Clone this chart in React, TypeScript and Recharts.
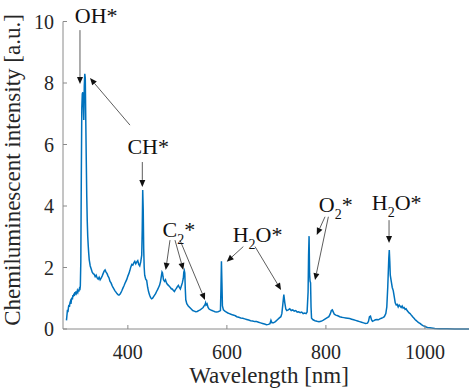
import { LineChart, Line, XAxis, YAxis, ReferenceLine, ReferenceDot } from 'recharts';

// emission spectrum (nm / a.u.)
const wavelength = [
  276, 277, 278, 279, 280, 281, 282, 283, 284, 285, 286, 287, 288, 289, 290, 291, 292, 293, 294, 295, 296, 297, 298, 299,
  300, 301, 302, 303, 304, 305, 306, 307, 308, 309, 310, 311, 312, 313, 314, 315, 316, 317, 318, 319, 320, 321, 322, 324,
  326, 328, 330, 332, 334, 336, 338, 340, 342, 344, 346, 348, 350, 352, 354, 356, 358, 360, 362, 364, 366, 368, 370, 372,
  374, 376, 378, 380, 382, 384, 386, 388, 390, 392, 394, 396, 398, 400, 402, 404, 406, 408, 410, 412, 414, 416, 418, 420,
  422, 424, 426, 428, 429, 430, 431, 432, 433, 434, 436, 438, 440, 442, 444, 446, 448, 450, 452, 454, 456, 458, 460, 462,
  464, 466, 468, 469, 470, 471, 472, 474, 476, 478, 480, 482, 484, 486, 488, 490, 492, 494, 496, 498, 500, 502, 504, 506,
  508, 510, 512, 513, 514, 515, 516, 517, 519, 522, 525, 528, 531, 534, 537, 540, 543, 546, 549, 552, 554, 556, 557, 558,
  560, 562, 564, 567, 570, 573, 576, 579, 582, 585, 587, 588, 589, 590, 591, 593, 596, 599, 602, 605, 608, 611, 614, 617,
  620, 624, 628, 632, 636, 640, 644, 648, 652, 656, 660, 664, 668, 672, 676, 680, 684, 687, 689, 691, 694, 698, 702, 706,
  709, 711, 713, 715, 717, 719, 721, 724, 727, 730, 733, 736, 739, 742, 745, 748, 751, 754, 757, 760, 762, 764, 765, 766,
  767, 768, 769, 770, 771, 774, 778, 782, 786, 790, 794, 798, 802, 806, 809, 811, 813, 815, 817, 820, 824, 828, 832, 836,
  840, 844, 848, 852, 856, 860, 864, 868, 872, 876, 880, 884, 886, 888, 890, 892, 894, 897, 900, 903, 906, 909, 912, 915,
  918, 921, 923, 925, 927, 928, 929, 930, 932, 934, 936, 938, 940, 942, 944, 946, 948, 950, 952, 954, 956, 958, 960, 962,
  964, 966, 968, 970, 972, 974, 976, 978, 980, 982, 984, 986, 988, 990, 993, 996, 1000, 1005, 1010, 1020, 1030, 1045, 1060,
  1075, 1089,
];
const intensity = [
  0.28, 0.45, 0.62, 0.55, 0.7, 0.78, 0.72, 0.85, 0.9, 0.82, 0.95, 1.02, 0.96, 1.1, 1.05, 1.15, 1.08, 1.2, 1.12, 1.22, 1.15, 1.18, 1.25, 1.2,
  1.28, 1.22, 1.3, 1.26, 1.4, 2.2, 5.0, 7.2, 7.65, 7.7, 7.3, 6.8, 7.9, 8.3, 8.15, 6.8, 5.5, 4.3, 3.5, 3.0, 2.7, 2.45, 2.25, 2.05,
  1.95, 1.85, 1.8, 1.78, 1.7, 1.75, 1.66, 1.62, 1.68, 1.6, 1.65, 1.72, 1.8, 1.88, 1.92, 1.85, 1.8, 1.72, 1.66, 1.55, 1.5, 1.42, 1.35, 1.3,
  1.24, 1.2, 1.15, 1.12, 1.1, 1.13, 1.18, 1.25, 1.33, 1.4, 1.48, 1.55, 1.62, 1.72, 1.8, 1.9, 2.02, 2.1, 2.08, 2.15, 2.2, 2.12, 2.18, 2.22,
  2.1, 2.05, 2.18, 2.4, 3.2, 4.52, 3.9, 2.6, 2.0, 1.75, 1.62, 1.58, 1.35, 1.2, 1.1, 1.02, 0.98, 1.0, 1.05, 1.1, 1.15, 1.22, 1.28, 1.35,
  1.42, 1.55, 1.75, 1.85, 1.82, 1.7, 1.6, 1.55, 1.6, 1.5, 1.45, 1.42, 1.38, 1.35, 1.3, 1.3, 1.25, 1.22, 1.28, 1.32, 1.38, 1.42, 1.35, 1.3,
  1.4, 1.5, 1.65, 1.85, 1.9, 1.82, 1.3, 0.95, 0.82, 0.75, 0.7, 0.65, 0.6, 0.58, 0.56, 0.57, 0.6, 0.62, 0.66, 0.7, 0.75, 0.8, 0.85, 0.78,
  0.82, 0.7, 0.65, 0.62, 0.6, 0.58, 0.56, 0.55, 0.56, 0.58, 0.6, 1.3, 2.2, 1.5, 0.75, 0.62, 0.58, 0.55, 0.52, 0.5, 0.48, 0.46, 0.45, 0.43,
  0.4, 0.38, 0.36, 0.35, 0.33, 0.31, 0.29, 0.27, 0.26, 0.24, 0.24, 0.22, 0.2, 0.18, 0.16, 0.14, 0.15, 0.17, 0.28, 0.2, 0.2, 0.24, 0.3, 0.36,
  0.4, 0.5, 0.8, 1.12, 0.85, 0.65, 0.6, 0.62, 0.66, 0.6, 0.62, 0.58, 0.6, 0.55, 0.56, 0.53, 0.55, 0.5, 0.52, 0.5, 0.55, 1.2, 2.4, 3.02,
  1.8, 1.55, 1.5, 0.7, 0.35, 0.3, 0.27, 0.25, 0.24, 0.25, 0.28, 0.32, 0.36, 0.4, 0.5, 0.6, 0.62, 0.55, 0.48, 0.45, 0.43, 0.4, 0.38, 0.37,
  0.36, 0.35, 0.34, 0.32, 0.3, 0.28, 0.26, 0.24, 0.22, 0.2, 0.18, 0.19, 0.25, 0.4, 0.42, 0.3, 0.25, 0.27, 0.3, 0.31, 0.3, 0.33, 0.35, 0.37,
  0.4, 0.5, 0.72, 1.4, 2.3, 2.57, 2.2, 1.75, 1.55, 1.35, 1.25, 1.05, 0.85, 0.78, 0.8, 0.72, 0.78, 0.74, 0.7, 0.75, 0.68, 0.7, 0.64, 0.66,
  0.6, 0.56, 0.52, 0.5, 0.46, 0.42, 0.38, 0.35, 0.31, 0.28, 0.25, 0.22, 0.2, 0.18, 0.14, 0.11, 0.08, 0.05, 0.04, 0.02, 0.01, 0.01, 0.0,
  0.0, 0.0,
];

const xTicks = [400, 600, 800, 1000];
const yTicks = [0, 2, 4, 6, 8, 10];

// species labels: [text, subscript, suffix], anchored at (nm, a.u.)
const labels = [
  { nm: 336, val: 9.95, main: 'OH', sub: '', tail: '*' },
  { nm: 441, val: 5.69, main: 'CH', sub: '', tail: '*' },
  { nm: 503, val: 2.99, main: 'C', sub: '2', tail: '*' },
  { nm: 662, val: 2.84, main: 'H', sub: '2', tail: 'O*' },
  { nm: 820, val: 3.81, main: 'O', sub: '2', tail: '*' },
  { nm: 943, val: 3.87, main: 'H', sub: '2', tail: 'O*' },
];

// arrows from label to peak
const arrows = [
  { from: [303.3, 9.72], to: [303.3, 7.97] },
  { from: [404.3, 6.63], to: [323.5, 8.16] },
  { from: [429.2, 5.43], to: [429.2, 4.62] },
  { from: [485.1, 2.89], to: [476.5, 1.92] },
  { from: [495.2, 2.89], to: [512, 1.92] },
  { from: [505.3, 2.89], to: [555.8, 0.94] },
  { from: [633.2, 2.68], to: [599.7, 2.19] },
  { from: [656.8, 2.68], to: [709.4, 1.27] },
  { from: [798.2, 3.65], to: [781.5, 3.06] },
  { from: [805, 3.65], to: [778, 1.59] },
  { from: [927.5, 3.54], to: [927.5, 2.8] },
];

const data = wavelength.map((nm, i) => ({ nm, val: intensity[i] }));

const FONT = '"Liberation Serif", "Times New Roman", serif';
const BLUE = '#0072BD';
const AXIS = '#8a8a8a';
const INK = '#262626';

const ArrowShape = (props: any) => {
  const { x1, y1, x2, y2 } = props;
  const ang = Math.atan2(y2 - y1, x2 - x1);
  const len = 7;
  const half = 3;
  const bx = x2 - len * Math.cos(ang);
  const by = y2 - len * Math.sin(ang);
  const px = -Math.sin(ang) * half;
  const py = Math.cos(ang) * half;
  return (
    <g>
      <line x1={x1} y1={y1} x2={bx} y2={by} stroke="#333" strokeWidth={0.8} />
      <polygon points={`${x2},${y2} ${bx + px},${by + py} ${bx - px},${by - py}`} fill="#111" />
    </g>
  );
};

const makeLabel = (l: (typeof labels)[number]) => (props: any) => (
  <text x={props.cx} y={props.cy} textAnchor="middle" fontFamily={FONT} fontSize={22} fill="#111">
    {l.main}
    {l.sub ? (
      <>
        <tspan dy={7} fontSize={14}>{l.sub}</tspan>
        <tspan dy={-7}>{l.tail}</tspan>
      </>
    ) : (
      <tspan>{l.tail}</tspan>
    )}
  </text>
);

export default function App() {
  return (
    <div style={{ position: 'absolute', left: 0, top: 0, width: 469, height: 390, background: '#fff' }}>
      <LineChart width={469} height={390} data={data} margin={{ top: 21.5, right: 0, bottom: 0, left: 8 }}>
        <XAxis
          dataKey="nm"
          type="number"
          domain={[269, 1089]}
          ticks={xTicks}
          allowDataOverflow
          height={61}
          stroke={AXIS}
          tickSize={-4}
          tickMargin={20}
          tick={{ fontSize: 20, fontFamily: FONT, fill: INK }}
          label={{
            content: () => (
              <text x={269} y={383} textAnchor="middle" fontFamily={FONT} fontSize={23} fill={INK}>
                Wavelength [nm]
              </text>
            ),
          }}
        />
        <YAxis
          type="number"
          domain={[0, 10]}
          ticks={yTicks}
          width={55}
          stroke={AXIS}
          tickSize={-4}
          tickMargin={13}
          tick={{ fontSize: 20, fontFamily: FONT, fill: INK }}
          label={{
            content: () => (
              <text
                x={20}
                y={170}
                transform="rotate(-90 20 170)"
                textAnchor="middle"
                fontFamily={FONT}
                fontSize={23}
                fill={INK}
              >
                Chemiluminescent intensity [a.u.]
              </text>
            ),
          }}
        />
        <Line dataKey="val" type="linear" stroke={BLUE} strokeWidth={1.5} dot={false} isAnimationActive={false} />
        {arrows.map((a, i) => (
          <ReferenceLine
            key={`a${i}`}
            segment={[
              { x: a.from[0], y: a.from[1] },
              { x: a.to[0], y: a.to[1] },
            ]}
            ifOverflow="visible"
            shape={ArrowShape}
          />
        ))}
        {labels.map((l, i) => (
          <ReferenceDot key={`l${i}`} x={l.nm} y={l.val} r={0} ifOverflow="visible" shape={makeLabel(l)} />
        ))}
      </LineChart>
    </div>
  );
}
